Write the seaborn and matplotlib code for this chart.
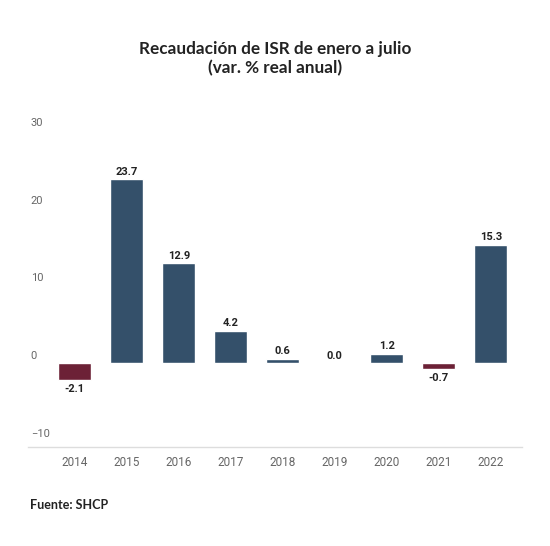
import pandas as pd
import matplotlib.pyplot as plt
import matplotlib.transforms as mtransforms
import seaborn as sns

# data
years = ['2014', '2015', '2016', '2017', '2018', '2019', '2020', '2021', '2022']
values = [-2.1, 23.7, 12.9, 4.2, 0.6, 0.0, 1.2, -0.7, 15.3]
yticks = [-10, 0, 10, 20, 30]

blue = '#34506a'
red = '#6c2136'

df = pd.DataFrame({'year': years, 'value': values})
df['sign'] = ['neg' if v < 0 else 'pos' for v in df['value']]

sns.set_theme(style='white')
plt.rcParams['font.family'] = ['Roboto', 'DejaVu Sans']

fig = plt.figure(figsize=(5.5, 5.46), dpi=100)
ax = fig.add_axes([0.051, 0.181, 0.898, 0.594])

sns.barplot(data=df, x='year', y='value', hue='sign', palette={'pos': blue, 'neg': red},
            dodge=False, legend=False, width=0.64, ax=ax, saturation=1)

ax.set_xlim(-0.9, 8.6)
ax.set_ylim(-10.8, 31)
ax.set_xlabel('')
ax.set_ylabel('')

for s in ['top', 'right', 'left']:
    ax.spines[s].set_visible(False)
ax.spines['bottom'].set_color('#dddddd')
ax.spines['bottom'].set_linewidth(1)

ax.set_yticks(yticks)
ax.tick_params(axis='y', length=0, pad=-2, labelsize=8, labelcolor='#666666')
ax.tick_params(axis='x', length=0, pad=6, labelsize=8.5, labelcolor='#666666')
offset = mtransforms.ScaledTranslation(0, 6 / 72, fig.dpi_scale_trans)
for lab in ax.get_yticklabels():
    lab.set_horizontalalignment('left')
    lab.set_transform(lab.get_transform() + offset)

# value labels
for i, v in enumerate(values):
    if v < 0:
        ax.annotate(f'{v:.1f}', (i, v), xytext=(0, -3), textcoords='offset points',
                    ha='center', va='top', fontsize=8, fontweight='bold', color='#222222')
    else:
        ax.annotate(f'{v:.1f}', (i, v), xytext=(0, 2), textcoords='offset points',
                    ha='center', va='bottom', fontsize=8, fontweight='bold', color='#222222')

fig.text(0.5, 0.893, 'Recaudación de ISR de enero a julio\n(var. % real anual)',
         ha='center', va='center', fontsize=12.3, fontweight='bold', color='#222222',
         linespacing=1.2, family=['Lato', 'DejaVu Sans'])
fig.text(0.055, 0.075, 'Fuente: SHCP', ha='left', va='center', fontsize=9,
         fontweight='bold', color='#222222', family=['Lato', 'DejaVu Sans'])

fig.savefig('out.png', dpi=100)
